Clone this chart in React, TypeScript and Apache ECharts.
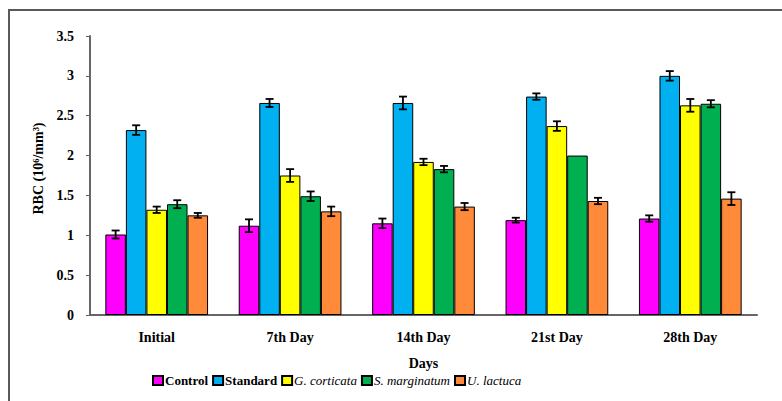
import React, { useEffect, useRef } from "react";
import * as echarts from "echarts";

const categories = ["Initial", "7th Day", "14th Day", "21st Day", "28th Day"];
const seriesNames = ["Control", "Standard", "G. corticata", "S. marginatum", "U. lactuca"];
const colors = ["#FF00FF", "#00B0F0", "#FFFF00", "#00B050", "#FF8A3A"];

const control = [1.01, 1.12, 1.15, 1.19, 1.21];
const standard = [2.32, 2.66, 2.66, 2.74, 3.0];
const gCorticata = [1.32, 1.75, 1.92, 2.37, 2.63];
const sMarginatum = [1.39, 1.49, 1.83, 2.0, 2.65];
const uLactuca = [1.25, 1.3, 1.36, 1.43, 1.46];

const controlErr = [0.05, 0.08, 0.06, 0.03, 0.04];
const standardErr = [0.06, 0.05, 0.08, 0.04, 0.06];
const gCorticataErr = [0.04, 0.08, 0.04, 0.06, 0.08];
const sMarginatumErr = [0.05, 0.06, 0.04, 0, 0.045];
const uLactucaErr = [0.03, 0.06, 0.045, 0.04, 0.08];

const yTicks = ["0", "0.5", "1", "1.5", "2", "2.5", "3", "3.5"];

const values = [control, standard, gCorticata, sMarginatum, uLactuca];
const errors = [controlErr, standardErr, gCorticataErr, sMarginatumErr, uLactucaErr];

const GAP = 0.23;
const FONT = "Times New Roman, Liberation Serif, serif";

export default function App() {
  const ref = useRef<HTMLDivElement>(null);
  useEffect(() => {
    document.body.style.margin = "0";
    const chart = echarts.init(ref.current!, null, { renderer: "svg" });
    const barSeries: any[] = values.map((v, i) => ({
      name: seriesNames[i],
      type: "bar",
      data: v,
      barGap: "0%",
      barCategoryGap: GAP * 100 + "%",
      itemStyle: { color: colors[i], borderColor: "#000", borderWidth: 1 },
      z: 2,
    }));
    const errSeries: any[] = values.map((v, i) => ({
      type: "custom",
      name: seriesNames[i] + "_err",
      data: v
        .map((val, k) => [k, val - errors[i][k], val + errors[i][k]])
        .filter((_, k) => errors[i][k] > 0),
      z: 5,
      silent: true,
      renderItem: (params: any, api: any) => {
        const cat = api.value(0);
        const lo = api.coord([cat, api.value(1)]);
        const hi = api.coord([cat, api.value(2)]);
        const band = api.size([1, 0])[0];
        const bw = (band * (1 - GAP)) / 5;
        const x = lo[0] + (i - 2) * bw;
        const cap = 4;
        const style = { stroke: "#000", lineWidth: 1.8 };
        return {
          type: "group",
          children: [
            { type: "line", shape: { x1: x, y1: lo[1], x2: x, y2: hi[1] }, style },
            { type: "line", shape: { x1: x - cap, y1: lo[1], x2: x + cap, y2: lo[1] }, style },
            { type: "line", shape: { x1: x - cap, y1: hi[1], x2: x + cap, y2: hi[1] }, style },
          ],
        };
      },
    }));
    chart.setOption({
      animation: false,
      textStyle: { fontFamily: FONT },
      graphic: [
        {
          type: "rect",
          shape: { x: 9, y: 10, width: 800, height: 420 },
          style: { fill: "none", stroke: "#595959", lineWidth: 2 },
          z: 0,
        },
      ],
      legend: {
        data: seriesNames,
        left: 147,
        top: 369,
        itemWidth: 10,
        itemHeight: 9,
        itemGap: 4,
        icon: "rect",
        formatter: (name: string) =>
          name === "Control" || name === "Standard" ? `{b|${name}}` : `{i|${name}}`,
        textStyle: {
          color: "#000",
          fontFamily: FONT,
          fontSize: 13,
          padding: [0, 0, 0, -3],
          rich: {
            b: { fontWeight: "bold", fontSize: 13, fontFamily: FONT, color: "#000" },
            i: { fontStyle: "italic", fontSize: 13, fontFamily: FONT, color: "#000" },
          },
        },
      },
      grid: { left: 90, right: 25, top: 36, bottom: 86 },
      xAxis: {
        type: "category",
        data: categories,
        name: "Days",
        nameLocation: "middle",
        nameGap: 41,
        nameTextStyle: { fontWeight: "bold", fontSize: 14, color: "#000", fontFamily: FONT },
        axisLine: { lineStyle: { color: "#666", width: 2 } },
        axisTick: { show: false },
        axisLabel: { color: "#000", fontWeight: "bold", fontSize: 14, fontFamily: FONT, margin: 15 },
      },
      yAxis: {
        type: "value",
        min: 0,
        max: 3.5,
        interval: 0.5,
        name: "RBC (10⁶/mm³)",
        nameLocation: "middle",
        nameGap: 34,
        nameTextStyle: { fontWeight: "bold", fontSize: 14, color: "#000", fontFamily: FONT, padding: [0, 0, 0, 14] },
        splitLine: { show: false },
        axisLine: { show: true, lineStyle: { color: "#666", width: 2 } },
        axisTick: { show: true, length: 4, lineStyle: { color: "#666", width: 1 } },
        axisLabel: {
          color: "#000",
          fontWeight: "bold",
          fontSize: 14,
          fontFamily: FONT,
          margin: 16,
          formatter: (v: number) => yTicks[Math.round(v / 0.5)] ?? String(v),
        },
      },
      series: [...barSeries, ...errSeries],
    });
    return () => chart.dispose();
  }, []);
  return <div ref={ref} style={{ width: 782, height: 401 }} />;
}
